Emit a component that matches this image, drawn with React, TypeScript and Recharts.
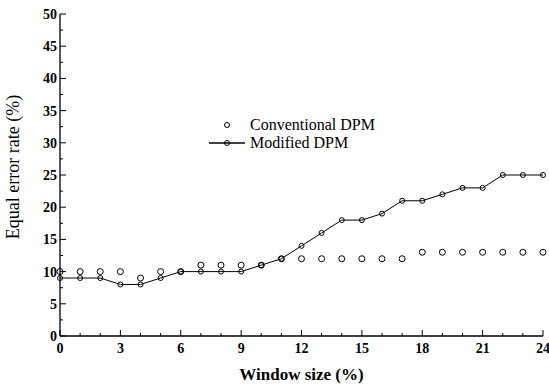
import React from 'react';
import { LineChart, Line, XAxis, YAxis } from 'recharts';

const windowSizes = [0, 1, 2, 3, 4, 5, 6, 7, 8, 9, 10, 11, 12, 13, 14, 15, 16, 17, 18, 19, 20, 21, 22, 23, 24];
const conventional = [10, 10, 10, 10, 9, 10, 10, 11, 11, 11, 11, 12, 12, 12, 12, 12, 12, 12, 13, 13, 13, 13, 13, 13, 13];
const modified = [9, 9, 9, 8, 8, 9, 10, 10, 10, 10, 11, 12, 14, 16, 18, 18, 19, 21, 21, 22, 23, 23, 25, 25, 25];

const xTicks = windowSizes;
const xLabels = [0, 3, 6, 9, 12, 15, 18, 21, 24];
const yTicks = [0, 2.5, 5, 7.5, 10, 12.5, 15, 17.5, 20, 22.5, 25, 27.5, 30, 32.5, 35, 37.5, 40, 42.5, 45, 47.5, 50];
const yLabels = [0, 5, 10, 15, 20, 25, 30, 35, 40, 45, 50];

const data = windowSizes.map((w, i) => ({
    w,
    conventional: conventional[i],
    modified: modified[i],
}));

const FONT = 'Liberation Serif';

// inward ticks, labels only on the major ones
const BottomTick = (props: any) => {
    const { x, y, payload } = props;
    const major = xLabels.includes(payload.value);
    return (
        <g>
            <line x1={x} y1={y} x2={x} y2={y - (major ? 6 : 3)} stroke="#000" strokeWidth={1} />
            {major && (
                <text x={x} y={y + 17} textAnchor="middle" fontFamily={FONT} fontSize={14} fontWeight="bold" fill="#000">
                    {payload.value}
                </text>
            )}
        </g>
    );
};

const TopTick = (props: any) => {
    const { x, y, payload } = props;
    const major = xLabels.includes(payload.value);
    return <line x1={x} y1={y} x2={x} y2={y + (major ? 6 : 3)} stroke="#000" strokeWidth={1} />;
};

const LeftTick = (props: any) => {
    const { x, y, payload } = props;
    const major = yLabels.includes(payload.value);
    return (
        <g>
            <line x1={x} y1={y} x2={x + (major ? 6 : 3)} y2={y} stroke="#000" strokeWidth={1} />
            {major && (
                <text x={x - 3} y={y + 5} textAnchor="end" fontFamily={FONT} fontSize={14} fontWeight="bold" fill="#000">
                    {payload.value}
                </text>
            )}
        </g>
    );
};

const RightTick = (props: any) => {
    const { x, y, payload } = props;
    const major = yLabels.includes(payload.value);
    return <line x1={x} y1={y} x2={x - (major ? 6 : 3)} y2={y} stroke="#000" strokeWidth={1} />;
};

const ChartLegend = () => (
    <div style={{ position: 'absolute', left: 207, top: 116, fontFamily: FONT, fontSize: 16, color: '#000', lineHeight: '18px' }}>
        <div style={{ display: 'flex', alignItems: 'center' }}>
            <svg width={40} height={18}>
                <circle cx={20} cy={9} r={2.5} fill="none" stroke="#000" strokeWidth={1} />
            </svg>
            <span style={{ marginLeft: 3 }}>Conventional DPM</span>
        </div>
        <div style={{ display: 'flex', alignItems: 'center' }}>
            <svg width={40} height={18}>
                <line x1={2} y1={9} x2={38} y2={9} stroke="#000" strokeWidth={1.3} />
                <circle cx={20} cy={9} r={2.5} fill="none" stroke="#000" strokeWidth={1} />
            </svg>
            <span style={{ marginLeft: 3 }}>Modified DPM</span>
        </div>
    </div>
);

export default function App() {
    return (
        <div style={{ position: 'fixed', left: 0, top: 0, width: 549, height: 385, background: '#fff' }}>
            <LineChart width={549} height={385} data={data} margin={{ top: 14, right: 6, bottom: 0, left: 0 }}>
                <XAxis
                    dataKey="w"
                    type="number"
                    domain={[0, 24]}
                    ticks={xTicks}
                    interval={0}
                    tickSize={0}
                    tickMargin={0}
                    tick={BottomTick}
                    height={49}
                    stroke="#000"
                    strokeWidth={1.3}
                    label={{ value: 'Window size (%)', position: 'insideBottom', offset: 5, fontFamily: FONT, fontSize: 17, fontWeight: 'bold', fill: '#000' }}
                />
                <XAxis
                    xAxisId="top"
                    orientation="top"
                    dataKey="w"
                    type="number"
                    domain={[0, 24]}
                    ticks={xTicks}
                    interval={0}
                    tickSize={0}
                    tickMargin={0}
                    tick={TopTick}
                    height={0}
                    stroke="#000"
                    strokeWidth={1.3}
                />
                <YAxis
                    type="number"
                    domain={[0, 50]}
                    ticks={yTicks}
                    interval={0}
                    tickSize={0}
                    tickMargin={0}
                    tick={LeftTick}
                    width={60}
                    stroke="#000"
                    strokeWidth={1.3}
                    label={{ value: 'Equal error rate (%)', angle: -90, position: 'insideLeft', offset: 13, dy: -8, style: { textAnchor: 'middle' }, fontFamily: FONT, fontSize: 18, fill: '#000' }}
                />
                <YAxis
                    yAxisId="right"
                    orientation="right"
                    type="number"
                    domain={[0, 50]}
                    ticks={yTicks}
                    interval={0}
                    tickSize={0}
                    tickMargin={0}
                    tick={RightTick}
                    width={0}
                    stroke="#000"
                    strokeWidth={1.3}
                />
                <Line
                    dataKey="conventional"
                    stroke="none"
                    dot={{ r: 3, fill: 'none', stroke: '#000', strokeWidth: 1 }}
                    activeDot={false}
                    isAnimationActive={false}
                />
                <Line
                    dataKey="modified"
                    stroke="#000"
                    strokeWidth={1}
                    dot={{ r: 2.5, fill: 'none', stroke: '#000', strokeWidth: 1 }}
                    activeDot={false}
                    isAnimationActive={false}
                />
            </LineChart>
            <ChartLegend />
        </div>
    );
}
